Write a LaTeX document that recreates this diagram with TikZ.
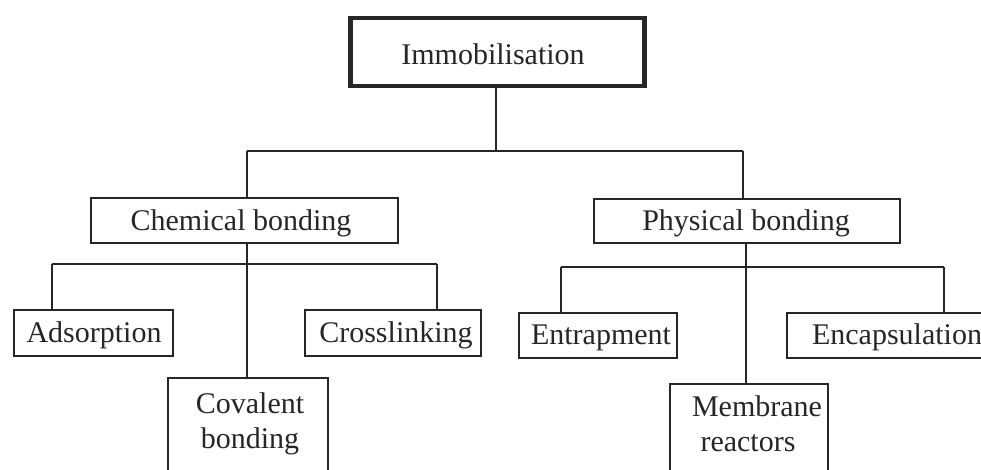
\documentclass[tikz,border=0pt]{standalone}
\usepackage{fontspec}
\setmainfont{Liberation Serif}
\begin{document}
\begin{tikzpicture}[x=1pt,y=-1pt,
  box/.style={draw=black!85,line width=1.6pt,rectangle,inner sep=0pt,anchor=north west},
  topbox/.style={box,line width=4.5pt},
  lbl/.style={inner sep=0pt,anchor=base,font=\fontsize{30}{32}\selectfont,text=black!85},
  conn/.style={draw=black!85,line width=1.6pt}]
\useasboundingbox (0,0) rectangle (981,470);
\clip (0,0) rectangle (981,470);
% boxes
\node[topbox,minimum width=294pt,minimum height=68pt] (top) at (348,16) {};
\node[box,minimum width=307pt,minimum height=45pt] (chem) at (90,197) {};
\node[box,minimum width=306pt,minimum height=44pt] (phys) at (593,198) {};
\node[box,minimum width=159pt,minimum height=46pt] (ads) at (13,309) {};
\node[box,minimum width=176pt,minimum height=46pt] (cross) at (304,309) {};
\node[box,minimum width=160pt,minimum height=110pt] (cov) at (167,377) {};
\node[box,minimum width=158pt,minimum height=45pt] (ent) at (518,312) {};
\node[box,minimum width=230pt,minimum height=45pt] (enc) at (786,312) {};
\node[box,minimum width=158pt,minimum height=110pt] (mem) at (669,383) {};
% labels
\node[lbl] (topT) at (493,65) {Immobilisation};
\node[lbl] (chemT) at (241,230) {Chemical bonding};
\node[lbl] (physT) at (746,230) {Physical bonding};
\node[lbl] (adsT) at (94,342) {Adsorption};
\node[lbl] (crossT) at (396,342) {Crosslinking};
\node[lbl] (covT1) at (250,413) {Covalent};
\node[lbl] (covT2) at (250,448) {bonding};
\node[lbl] (entT) at (601,344) {Entrapment};
\node[lbl] (encT) at (897,344) {Encapsulation};
\node[lbl] (memT1) at (757,416) {Membrane};
\node[lbl] (memT2) at (748,451) {reactors};
% junctions
\coordinate (j0) at (496,151);
\coordinate (j0L) at (247,151);
\coordinate (j0R) at (743,151);
\coordinate (j1) at (247,264);
\coordinate (j1L) at (52,264);
\coordinate (j1R) at (437,264);
\coordinate (j2) at (746,267);
\coordinate (j2L) at (561,267);
\coordinate (j2R) at (944,267);
% connectors
\draw[conn] (top.south -| j0) -- (j0);
\draw[conn] (j0L) -- (j0R);
\draw[conn] (j0L) -- (chem.north -| j0L);
\draw[conn] (j0R) -- (phys.north -| j0R);
\draw[conn] (chem.south -| j1) -- (cov.north -| j1);
\draw[conn] (j1L) -- (j1R);
\draw[conn] (j1L) -- (ads.north -| j1L);
\draw[conn] (j1R) -- (cross.north -| j1R);
\draw[conn] (phys.south -| j2) -- (mem.north -| j2);
\draw[conn] (j2L) -- (j2R);
\draw[conn] (j2L) -- (ent.north -| j2L);
\draw[conn] (j2R) -- (enc.north -| j2R);
\end{tikzpicture}
\end{document}
